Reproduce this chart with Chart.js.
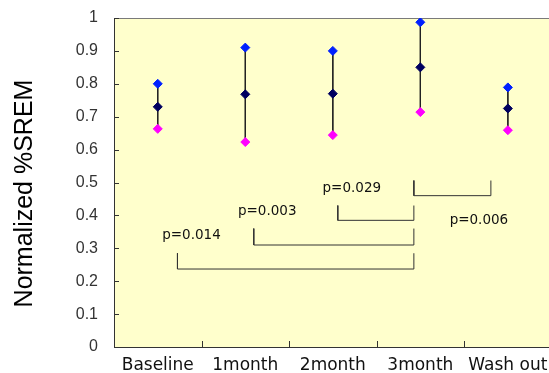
<!DOCTYPE html>
<html>
<head>
<meta charset="utf-8">
<script src="https://cdn.jsdelivr.net/npm/chart.js@4.4.1/dist/chart.umd.min.js"></script>
<style>
  html, body { margin: 0; padding: 0; background: #fff; }
  #wrap { width: 549px; height: 373px; }
</style>
</head>
<body>
<div id="wrap"><canvas id="sremChart"></canvas></div>
<script>
// values
const categories = ["Baseline", "1month", "2month", "3month", "Wash out"];
const upper = [0.80, 0.91, 0.90, 0.987, 0.789];
const mean = [0.73, 0.768, 0.77, 0.85, 0.725];
const lower = [0.663, 0.623, 0.644, 0.714, 0.659];

// significance brackets (x in category units, y in data units)
const pLabels = ["p=0.014", "p=0.003", "p=0.029", "p=0.006"];
const bracketFrom = [0.225, 1.097, 2.057, 2.926];
const bracketTo = [2.926, 2.926, 2.926, 3.806];
const bracketBase = [0.237, 0.31, 0.385, 0.46];
const bracketTop = [0.285, 0.36, 0.43, 0.506];
const labelX = [0.385, 1.251, 2.217, 3.669];
const labelY = [0.338, 0.411, 0.483, 0.386];

const yTitle = "Normalized %SREM";

const canvas = document.querySelector("#sremChart");

// build point lists from the arrays
const toPoints = vals => vals.map((v, i) => ({ x: i, y: v }));

const rangePoints = [];
categories.forEach((c, i) => {
    rangePoints.push({ x: i, y: upper[i] }, { x: i, y: lower[i] }, { x: i, y: null });
});

const bracketPoints = [];
pLabels.forEach((p, i) => {
    bracketPoints.push(
        { x: bracketFrom[i], y: bracketTop[i] },
        { x: bracketFrom[i], y: bracketBase[i] },
        { x: bracketTo[i], y: bracketBase[i] },
        { x: bracketTo[i], y: bracketTop[i] },
        { x: bracketTo[i], y: null }
    );
});

// pale yellow plot area, grey top edge, axis title
const plotFrame = {
    id: "plotFrame",
    beforeDraw(chart) {
        const { ctx, chartArea: a } = chart;
        ctx.save();
        ctx.fillStyle = "#ffffcc";
        ctx.fillRect(a.left, a.top, a.right - a.left, a.bottom - a.top);
        ctx.strokeStyle = "#7a7a7a";
        ctx.lineWidth = 1;
        ctx.beginPath();
        ctx.moveTo(a.left, Math.round(a.top) + 0.5);
        ctx.lineTo(a.right, Math.round(a.top) + 0.5);
        ctx.stroke();

        // the title sits a bit below the middle of the axis in the original
        ctx.translate(25.5, (a.top + a.bottom) / 2 + 11);
        ctx.rotate(-Math.PI / 2);
        ctx.fillStyle = "#000";
        ctx.font = '25px "Liberation Sans"';
        ctx.textAlign = "center";
        ctx.textBaseline = "middle";
        ctx.fillText(yTitle, 0, 0);
        ctx.restore();
    }
};

// tick marks pointing into the plot, and the p-value texts
const innerMarks = {
    id: "innerMarks",
    afterDatasetsDraw(chart) {
        const { ctx, chartArea: a, scales: { x, y } } = chart;
        ctx.save();
        ctx.strokeStyle = "#333";
        ctx.lineWidth = 1;
        ctx.beginPath();
        y.ticks.forEach(t => {
            const py = Math.round(y.getPixelForValue(t.value)) + 0.5;
            ctx.moveTo(a.left, py);
            ctx.lineTo(a.left + 5, py);
        });
        for (let i = 0; i < categories.length - 1; i++) {
            const px = Math.round(x.getPixelForValue(i + 0.5)) + 0.5;
            ctx.moveTo(px, a.bottom);
            ctx.lineTo(px, a.bottom - 6);
        }
        ctx.stroke();

        ctx.fillStyle = "#111";
        ctx.font = '13.5px "DejaVu Sans"';
        ctx.textAlign = "center";
        ctx.textBaseline = "middle";
        pLabels.forEach((t, i) => {
            ctx.fillText(t, x.getPixelForValue(labelX[i]), y.getPixelForValue(labelY[i]));
        });
        ctx.restore();
    }
};

const markerStyle = color => ({
    pointStyle: "rectRot",
    pointRadius: 4.5,
    pointBackgroundColor: color,
    pointBorderColor: color,
    pointBorderWidth: 1,
    showLine: false,
    order: 0
});

new Chart(canvas, {
    type: "scatter",
    data: {
        datasets: [
            { label: "Upper", data: toPoints(upper), ...markerStyle("#0020ff") },
            { label: "Mean", data: toPoints(mean), ...markerStyle("#000060") },
            { label: "Lower", data: toPoints(lower), ...markerStyle("#ff00ff") },
            {
                label: "Range",
                data: rangePoints,
                showLine: true,
                borderColor: "#222",
                borderWidth: 1,
                pointRadius: 0,
                spanGaps: false,
                order: 1
            },
            {
                label: "Brackets",
                data: bracketPoints,
                showLine: true,
                borderColor: "#333",
                borderWidth: 1,
                pointRadius: 0,
                spanGaps: false,
                order: 1
            }
        ]
    },
    options: {
        responsive: true,
        maintainAspectRatio: false,
        animation: false,
        layout: {
            autoPadding: false,
            padding: { top: 18, right: 0, left: 0, bottom: 0 }
        },
        plugins: {
            legend: { display: false },
            tooltip: { enabled: false }
        },
        scales: {
            x: {
                type: "linear",
                min: -0.5,
                max: 4.47,
                afterBuildTicks: scale => {
                    scale.ticks = categories.map((c, i) => ({ value: i }));
                },
                afterFit: scale => {
                    scale.height = 26;
                    // let the last label run to the edge like the original
                    scale.paddingLeft = 0;
                    scale.paddingRight = 0;
                },
                // ticks are not drawn, tickLength only makes room above the labels
                grid: { display: false, drawTicks: true, tickLength: 8 },
                border: { display: true, color: "#333", width: 1 },
                ticks: {
                    callback: v => categories[v],
                    color: "#111",
                    font: { family: "DejaVu Sans", size: 17 },
                    padding: 0,
                    maxRotation: 0,
                    autoSkip: false
                }
            },
            y: {
                min: 0,
                max: 1,
                afterFit: scale => { scale.width = 114; },
                grid: { display: false, drawTicks: true, tickLength: 16 },
                border: { display: true, color: "#333", width: 1 },
                ticks: {
                    stepSize: 0.1,
                    callback: v => String(+v.toFixed(1)),
                    color: "#333",
                    font: { family: "Liberation Sans", size: 16 },
                    padding: 0
                }
            }
        }
    },
    plugins: [plotFrame, innerMarks]
});
</script>
</body>
</html>
